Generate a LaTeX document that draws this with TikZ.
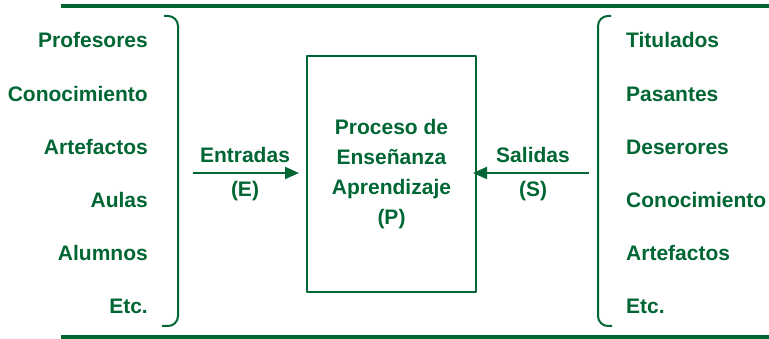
\documentclass[tikz,border=0pt]{standalone}
\usepackage{fontspec}
\setmainfont{Liberation Sans}
\usetikzlibrary{arrows.meta}
\definecolor{verde}{RGB}{0,102,51}
\begin{document}
\begin{tikzpicture}[x=1pt,y=-1pt,>={Triangle[length=14pt,width=12pt]}, font=\fontsize{21}{30}\selectfont\bfseries, line join=round, every node/.style={text=verde,inner sep=0pt}]
\def\xizq{148} \def\xder{626}
\def\ya{48} \def\dy{53.2}
\useasboundingbox (0,0) rectangle (769,339);
% lineas de arriba y abajo
\draw[verde,line width=4pt] (61,6)--(769,6);
\draw[verde,line width=4pt] (61,337)--(769,337);
% entradas
\node[anchor=base east] (prof) at (\xizq,\ya) {Profesores};
\node[anchor=base east] (conoc-e) at (\xizq,\ya+\dy) {Conocimiento};
\node[anchor=base east] (artef-e) at (\xizq,\ya+2*\dy) {Artefactos};
\node[anchor=base east] (aulas) at (\xizq,\ya+3*\dy) {Aulas};
\node[anchor=base east] (alum) at (\xizq,\ya+4*\dy) {Alumnos};
\node[anchor=base east] (etc-e) at (\xizq,\ya+5*\dy) {Etc.};
\draw[verde,line width=2pt,rounded corners=10pt] (164,16)--(178,16)--(178,326)--(162,326);
% salidas
\node[anchor=base west] (titul) at (\xder,\ya) {Titulados};
\node[anchor=base west] (pasan) at (\xder,\ya+\dy) {Pasantes};
\node[anchor=base west] (deser) at (\xder,\ya+2*\dy) {Deserores};
\node[anchor=base west] (conoc-s) at (\xder,\ya+3*\dy) {Conocimiento};
\node[anchor=base west] (artef-s) at (\xder,\ya+4*\dy) {Artefactos};
\node[anchor=base west] (etc-s) at (\xder,\ya+5*\dy) {Etc.};
\draw[verde,line width=2pt,rounded corners=10pt] (611,16)--(598,16)--(598,326)--(612,326);
% proceso
\node[draw=verde,line width=2pt,minimum width=169pt,minimum height=236pt,align=center] (proc) at (391.5,174) {Proceso de\\Enseñanza\\Aprendizaje\\(P)};
\node[anchor=base] (entr) at (245,163) {Entradas};
\node[anchor=base] (entr-e) at (245,197) {(E)};
\node[anchor=base] (sali) at (533,163) {Salidas};
\node[anchor=base] (sali-s) at (533,197) {(S)};
\coordinate (e0) at (193,173);
\coordinate (s0) at (589,173);
\draw[->,verde,line width=2pt,shorten >=7pt] (e0)--(e0-|proc.west);
\draw[->,verde,line width=2pt,shorten >=-4pt] (s0)--(s0-|proc.east);
\end{tikzpicture}
\end{document}
